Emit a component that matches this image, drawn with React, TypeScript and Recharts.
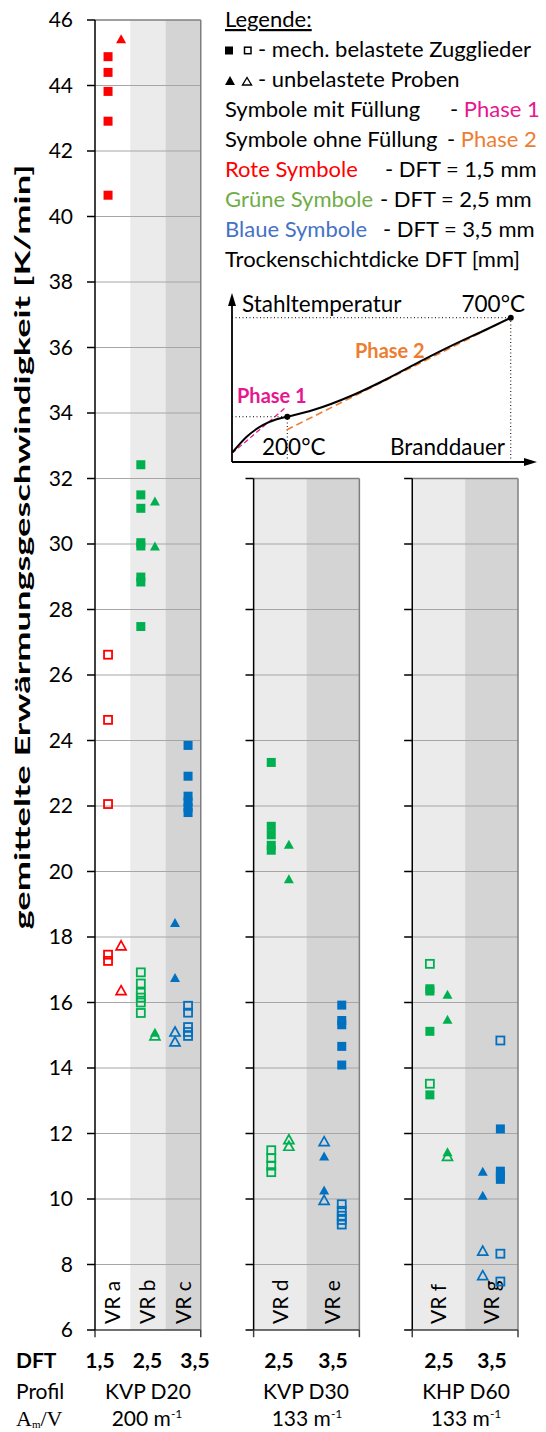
import React from 'react';
import {
  ScatterChart, Scatter, XAxis, YAxis, ReferenceArea, ReferenceLine,
  LineChart, Line, ReferenceDot,
} from 'recharts';

const FONT = 'Lato, "Noto Sans", sans-serif';
const RED = '#ff0000';
const GREEN = '#00b050';
const BLUE = '#0070c0';

const Y_TICKS = [6, 8, 10, 12, 14, 16, 18, 20, 22, 24, 26, 28, 30, 32, 34, 36, 38, 40, 42, 44, 46];

// gemittelte Erwärmungsgeschwindigkeit [K/min] je Versuchsreihe
const aFilledSq = [44.88, 44.4, 43.82, 42.91, 40.65];
const aFilledTri = [45.41];
const aOpenSq = [26.62, 24.63, 22.06, 17.46, 17.27];
const aOpenTri = [17.73, 16.36];

const bFilledSq = [32.42, 31.5, 31.09, 30.04, 29.94, 28.99, 28.84, 27.48];
const bFilledTri = [31.3, 29.92, 15.08];
const bOpenSq = [16.92, 16.58, 16.3, 16.15, 16.0, 15.68];
const bOpenTri = [14.98];

const cFilledSq = [23.85, 22.91, 22.3, 22.12, 21.95, 21.8];
const cFilledTri = [18.43, 16.75];
const cOpenSq = [15.9, 15.69, 15.25, 15.1, 14.98];
const cOpenTri = [15.1, 14.8];

const dFilledSq = [23.33, 21.38, 21.12, 20.8, 20.65];
const dFilledTri = [20.82, 19.76];
const dOpenSq = [11.49, 11.25, 11.02, 10.82];
const dOpenTri = [11.81, 11.61];

const eFilledSq = [15.92, 15.45, 15.32, 14.66, 14.09];
const eFilledTri = [11.3, 10.26];
const eOpenSq = [9.84, 9.64, 9.49, 9.36, 9.22];
const eOpenTri = [11.75, 9.96];

const fFilledSq = [16.42, 16.35, 15.12, 13.18];
const fFilledTri = [16.24, 15.47, 11.43];
const fOpenSq = [17.18, 13.52];
const fOpenTri = [11.3];

const gFilledSq = [12.14, 10.85, 10.72, 10.6];
const gFilledTri = [10.83, 10.1];
const gOpenSq = [14.84, 8.33, 7.48];
const gOpenTri = [8.41, 7.66];

// Prinzipskizze Stahltemperatur über Branddauer (normiert 0..100)
const curveTime = [0, 4.85, 10.3, 14.75, 18.25, 26.8, 40.0, 51.1, 62.0, 73.0, 84.1, 92.0];
const curveTemp = [5.4, 15.1, 22.2, 25.6, 27.1, 31.1, 40.1, 49.7, 60.1, 70.1, 79.5, 86.4];
const phase1Time = [0, 18];
const phase1Temp = [5.2, 33.1];
const phase2Time = [18, 92];
const phase2Temp = [19.2, 86.4];
const point200 = { x: 18.25, y: 27.1 };
const point700 = { x: 92, y: 86.4 };

const COLUMNS = [
  { name: 'VR a', x1: 0, x2: 1, top: 46, fill: '#ffffff', sqX: 0.37, triX: 0.74 },
  { name: 'VR b', x1: 1, x2: 2, top: 46, fill: '#ebebeb', sqX: 1.3, triX: 1.7 },
  { name: 'VR c', x1: 2, x2: 3, top: 46, fill: '#d4d4d4', sqX: 2.64, triX: 2.27 },
  { name: 'VR d', x1: 4.5, x2: 6, top: 32, fill: '#ebebeb', sqX: 5.0, triX: 5.5 },
  { name: 'VR e', x1: 6, x2: 7.5, top: 32, fill: '#d4d4d4', sqX: 7.0, triX: 6.5 },
  { name: 'VR f', x1: 9, x2: 10.5, top: 32, fill: '#ebebeb', sqX: 9.5, triX: 10.0 },
  { name: 'VR g', x1: 10.5, x2: 12, top: 32, fill: '#d4d4d4', sqX: 11.5, triX: 11.0 },
];

const PANELS = [
  { x1: 0, x2: 3, top: 46 },
  { x1: 4.5, x2: 7.5, top: 32 },
  { x1: 9, x2: 12, top: 32 },
];

type Kind = 'sq' | 'tri';
const SERIES: { col: number; kind: Kind; open: boolean; color: string; values: number[] }[] = [
  { col: 0, kind: 'sq', open: false, color: RED, values: aFilledSq },
  { col: 0, kind: 'tri', open: false, color: RED, values: aFilledTri },
  { col: 0, kind: 'sq', open: true, color: RED, values: aOpenSq },
  { col: 0, kind: 'tri', open: true, color: RED, values: aOpenTri },
  { col: 1, kind: 'sq', open: false, color: GREEN, values: bFilledSq },
  { col: 1, kind: 'tri', open: false, color: GREEN, values: bFilledTri },
  { col: 1, kind: 'sq', open: true, color: GREEN, values: bOpenSq },
  { col: 1, kind: 'tri', open: true, color: GREEN, values: bOpenTri },
  { col: 2, kind: 'sq', open: false, color: BLUE, values: cFilledSq },
  { col: 2, kind: 'tri', open: false, color: BLUE, values: cFilledTri },
  { col: 2, kind: 'sq', open: true, color: BLUE, values: cOpenSq },
  { col: 2, kind: 'tri', open: true, color: BLUE, values: cOpenTri },
  { col: 3, kind: 'sq', open: false, color: GREEN, values: dFilledSq },
  { col: 3, kind: 'tri', open: false, color: GREEN, values: dFilledTri },
  { col: 3, kind: 'sq', open: true, color: GREEN, values: dOpenSq },
  { col: 3, kind: 'tri', open: true, color: GREEN, values: dOpenTri },
  { col: 4, kind: 'sq', open: false, color: BLUE, values: eFilledSq },
  { col: 4, kind: 'tri', open: false, color: BLUE, values: eFilledTri },
  { col: 4, kind: 'sq', open: true, color: BLUE, values: eOpenSq },
  { col: 4, kind: 'tri', open: true, color: BLUE, values: eOpenTri },
  { col: 5, kind: 'sq', open: false, color: GREEN, values: fFilledSq },
  { col: 5, kind: 'tri', open: false, color: GREEN, values: fFilledTri },
  { col: 5, kind: 'sq', open: true, color: GREEN, values: fOpenSq },
  { col: 5, kind: 'tri', open: true, color: GREEN, values: fOpenTri },
  { col: 6, kind: 'sq', open: false, color: BLUE, values: gFilledSq },
  { col: 6, kind: 'tri', open: false, color: BLUE, values: gFilledTri },
  { col: 6, kind: 'sq', open: true, color: BLUE, values: gOpenSq },
  { col: 6, kind: 'tri', open: true, color: BLUE, values: gOpenTri },
];

const Marker = ({ cx, cy, kind, open, color }: any) => {
  if (cx == null || cy == null) return null;
  if (kind === 'sq') {
    return open
      ? <rect x={cx - 4} y={cy - 4} width={8} height={8} fill="none" stroke={color} strokeWidth={1.8} />
      : <rect x={cx - 4.5} y={cy - 4.5} width={9} height={9} fill={color} />;
  }
  const pts = `${cx},${cy - 5} ${cx + 5},${cy + 4} ${cx - 5},${cy + 4}`;
  return open
    ? <polygon points={pts} fill="none" stroke={color} strokeWidth={1.7} strokeLinejoin="miter" />
    : <polygon points={pts} fill={color} />;
};

const ColumnLabel = ({ viewBox, text }: any) => {
  if (!viewBox) return null;
  const cx = viewBox.x + viewBox.width / 2;
  const by = viewBox.y + viewBox.height - 6;
  return (
    <text x={cx} y={by} dy="0.36em" transform={`rotate(-90, ${cx}, ${by})`}
      fontFamily={FONT} fontSize={21} fill="#000" textAnchor="start">
      {text}
    </text>
  );
};

const ArrowHead = ({ cx, cy, dir }: any) => {
  if (cx == null) return null;
  const pts = dir === 'up'
    ? `${cx},${cy - 2} ${cx + 4},${cy + 11} ${cx - 4},${cy + 11}`
    : `${cx + 2},${cy} ${cx - 11},${cy - 4} ${cx - 11},${cy + 4}`;
  return <polygon points={pts} fill="#000" />;
};

const toPts = (xs: number[], ys: number[]) => xs.map((x, i) => ({ x, y: ys[i] }));

function Overlay() {
  const base = { fontFamily: FONT, fontSize: 22, fill: '#000' };
  const inset = { fontFamily: FONT, fontSize: 22.5, fill: '#000' };
  const table = { fontFamily: FONT, fontSize: 21, fill: '#000' };
  const legendY = (i: number) => 27 + 30 * i;
  return (
    <svg width={546} height={1432} style={{ position: 'absolute', left: 0, top: 0, pointerEvents: 'none' }}>
      {/* Legende */}
      <text x={225} y={legendY(0)} {...base} style={{ textDecoration: 'underline' }}>Legende:</text>
      <rect x={225} y={46.5} width={8} height={8} fill="#000" />
      <rect x={244.5} y={47.2} width={6.5} height={6.5} fill="none" stroke="#000" strokeWidth={1.5} />
      <text x={258} y={legendY(1)} {...base}>- mech. belastete Zugglieder</text>
      <polygon points="230,76 235,85 225,85" fill="#000" />
      <polygon points="247,77.5 251.5,85 242.5,85" fill="none" stroke="#000" strokeWidth={1.4} />
      <text x={258} y={legendY(2)} {...base}>- unbelastete Proben</text>
      <text x={225} y={legendY(3)} {...base}>Symbole mit Füllung</text>
      <text x={450} y={legendY(3)} {...base}>- <tspan fill="#e8168f">Phase 1</tspan></text>
      <text x={225} y={legendY(4)} {...base}>Symbole ohne Füllung</text>
      <text x={447} y={legendY(4)} {...base}>- <tspan fill="#ed7d31">Phase 2</tspan></text>
      <text x={225} y={legendY(5)} {...base} fill="#ff0000">Rote Symbole</text>
      <text x={385} y={legendY(5)} {...base}>- DFT = 1,5 mm</text>
      <text x={225} y={legendY(6)} {...base} fill="#70ad47">Grüne Symbole</text>
      <text x={380} y={legendY(6)} {...base}>- DFT = 2,5 mm</text>
      <text x={225} y={legendY(7)} {...base} fill="#4472c4">Blaue Symbole</text>
      <text x={383} y={legendY(7)} {...base}>- DFT = 3,5 mm</text>
      <text x={225} y={legendY(8)} {...base}>Trockenschichtdicke DFT [mm]</text>

      {/* Skizze */}
      <text x={242} y={312} {...inset}>Stahltemperatur</text>
      <text x={525} y={312} {...inset} textAnchor="end">700°C</text>
      <text x={355} y={358} fontFamily={FONT} fontSize={20} fontWeight="bold" fill="#ed7d31">Phase 2</text>
      <text x={237} y={403} fontFamily={FONT} fontSize={20} fontWeight="bold" fill="#e8168f">Phase 1</text>
      <text x={262} y={455} {...inset}>200°C</text>
      <text x={390} y={455} {...inset}>Branddauer</text>

      {/* Achsentitel */}
      <text x={22} y={547} dy="0.36em" transform="rotate(-90, 22, 547)" textAnchor="middle"
        textLength={765} lengthAdjust="spacingAndGlyphs"
        fontFamily={FONT} fontSize={21} fontWeight="bold" fill="#000">
        gemittelte Erwärmungsgeschwindigkeit [K/min]
      </text>

      {/* Tabelle unter der Achse */}
      <text x={16} y={1368} {...table} fontWeight="bold">DFT</text>
      {[
        ['1,5', 100], ['2,5', 147.5], ['3,5', 195],
        ['2,5', 279], ['3,5', 333], ['2,5', 439], ['3,5', 492],
      ].map(([t, x], i) => (
        <text key={i} x={x as number} y={1368} {...table} fontWeight="bold" textAnchor="middle">{t}</text>
      ))}
      <text x={16} y={1399} {...table}>Profil</text>
      {[['KVP D20', 148], ['KVP D30', 306], ['KHP D60', 466]].map(([t, x], i) => (
        <text key={i} x={x as number} y={1399} {...table} textAnchor="middle">{t}</text>
      ))}
      <text x={16} y={1426} fontFamily='"Liberation Serif", serif' fontSize={22} fill="#000">
        A<tspan fontSize={11} dy={2}>m</tspan><tspan dy={-2}>/V</tspan>
      </text>
      {[['200', 147], ['133', 307], ['133', 466]].map(([t, x], i) => (
        <text key={i} x={x as number} y={1426} {...table} textAnchor="middle">
          {t} m<tspan fontSize={12} dy={-8}>-1</tspan>
        </text>
      ))}
    </svg>
  );
}

function Inset() {
  return (
    <div style={{ position: 'absolute', left: 0, top: 0, pointerEvents: 'none' }}>
      <LineChart width={546} height={480} margin={{ top: 295, right: 11, bottom: 18, left: 232 }}>
        <XAxis type="number" dataKey="x" domain={[0, 100]} hide />
        <YAxis type="number" dataKey="y" domain={[0, 100]} hide />
        <ReferenceLine segment={[{ x: 0, y: point200.y }, { x: point200.x, y: point200.y }]} stroke="#000" strokeDasharray="1 2.5" />
        <ReferenceLine segment={[{ x: point200.x, y: 0 }, { x: point200.x, y: point200.y }]} stroke="#000" strokeDasharray="1 2.5" />
        <ReferenceLine segment={[{ x: 0, y: point700.y }, { x: point700.x, y: point700.y }]} stroke="#000" strokeDasharray="1 2.5" />
        <ReferenceLine segment={[{ x: point700.x, y: 0 }, { x: point700.x, y: point700.y }]} stroke="#000" strokeDasharray="1 2.5" />
        <ReferenceLine segment={[{ x: 0, y: 0 }, { x: 97, y: 0 }]} stroke="#000" strokeWidth={1.8} />
        <ReferenceLine segment={[{ x: 0, y: 0 }, { x: 0, y: 95 }]} stroke="#000" strokeWidth={1.8} />
        <Line data={toPts(phase2Time, phase2Temp)} dataKey="y" stroke="#ed7d31" strokeWidth={1.6}
          strokeDasharray="7 4" dot={false} isAnimationActive={false} />
        <Line data={toPts(phase1Time, phase1Temp)} dataKey="y" stroke="#e8168f" strokeWidth={1.3}
          strokeDasharray="5 3" dot={false} isAnimationActive={false} />
        <Line data={toPts(curveTime, curveTemp)} dataKey="y" type="monotone" stroke="#000" strokeWidth={2}
          dot={false} isAnimationActive={false} />
        <ReferenceDot x={point200.x} y={point200.y} r={3} fill="#000" stroke="none" />
        <ReferenceDot x={point700.x} y={point700.y} r={3} fill="#000" stroke="none" />
        <ReferenceDot x={100} y={0} shape={(p: any) => <ArrowHead {...p} dir="right" />} />
        <ReferenceDot x={0} y={100} shape={(p: any) => <ArrowHead {...p} dir="up" />} />
      </LineChart>
    </div>
  );
}

export default function App() {
  return (
    <div style={{ position: 'absolute', left: 0, top: 0, width: 546, height: 1432, background: '#fff', fontFamily: FONT }}>
      <ScatterChart width={546} height={1432} margin={{ top: 20, right: 28, bottom: 102, left: 0 }}>
        <XAxis type="number" dataKey="x" domain={[0, 12]} hide />
        <YAxis
          type="number" dataKey="y" domain={[6, 46]} ticks={Y_TICKS} interval={0} width={95}
          tick={{ fontSize: 21, fill: '#000', fontFamily: FONT }} tickSize={8} tickMargin={14}
          axisLine={{ stroke: '#000', strokeWidth: 1.5 }} tickLine={{ stroke: '#000', strokeWidth: 1.5 }}
        />
        {COLUMNS.map((c) => (
          <ReferenceArea key={c.name} x1={c.x1} x2={c.x2} y1={6} y2={c.top} fill={c.fill} fillOpacity={1}
            stroke="none" label={<ColumnLabel text={c.name} />} />
        ))}
        {PANELS.flatMap((p, pi) => Y_TICKS.filter((t) => t > 6 && t <= p.top).map((t) => (
          <ReferenceLine key={`g${pi}-${t}`} segment={[{ x: p.x1, y: t }, { x: p.x2, y: t }]}
            stroke={t === p.top ? '#7f7f7f' : '#a6a6a6'} strokeWidth={t === p.top ? 1.5 : 1} />
        )))}
        {PANELS.slice(1).flatMap((p, pi) => Y_TICKS.filter((t) => t <= p.top).map((t) => (
          <ReferenceLine key={`t${pi}-${t}`} segment={[{ x: p.x1 - 0.23, y: t }, { x: p.x1, y: t }]}
            stroke="#000" strokeWidth={1.5} />
        )))}
        {PANELS.slice(1).map((p, pi) => (
          <ReferenceLine key={`l${pi}`} segment={[{ x: p.x1, y: 6 }, { x: p.x1, y: p.top }]} stroke="#000" strokeWidth={1.5} />
        ))}
        {PANELS.map((p, pi) => (
          <ReferenceLine key={`r${pi}`} segment={[{ x: p.x2, y: 6 }, { x: p.x2, y: p.top }]} stroke="#7f7f7f" strokeWidth={1.5} />
        ))}
        {PANELS.map((p, pi) => (
          <ReferenceLine key={`b${pi}`} segment={[{ x: p.x1, y: 6 }, { x: p.x2, y: 6 }]} stroke="#404040" strokeWidth={1.5} />
        ))}
        {PANELS.flatMap((p, pi) => [p.x1, p.x2].map((x) => (
          <ReferenceLine key={`bt${pi}-${x}`} segment={[{ x, y: 6 }, { x, y: 5.78 }]} stroke="#404040"
            strokeWidth={1.5} ifOverflow="visible" />
        )))}
        {SERIES.map((s, i) => {
          const col = COLUMNS[s.col];
          const xPos = s.kind === 'sq' ? col.sqX : col.triX;
          return (
            <Scatter key={i} data={s.values.map((v) => ({ x: xPos, y: v }))} isAnimationActive={false}
              shape={(p: any) => <Marker cx={p.cx} cy={p.cy} kind={s.kind} open={s.open} color={s.color} />} />
          );
        })}
      </ScatterChart>
      <Inset />
      <Overlay />
    </div>
  );
}
